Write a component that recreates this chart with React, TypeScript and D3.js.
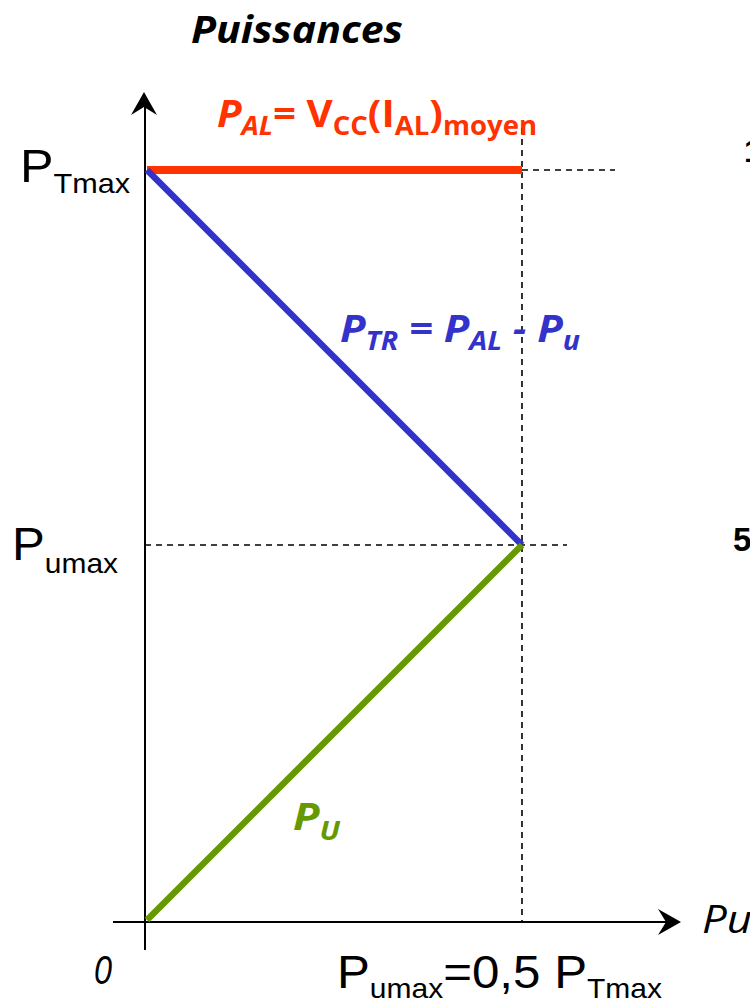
import React from "react";
import * as d3 from "d3";

// Data (normalized: P_Tmax = 1, P_umax = 0.5)
const puValues = [0, 0.5];
const palValues = [1, 1];
const ptrValues = [1, 0.5];
const pusValues = [0, 0.5];
const yTicks = [
  { v: 1, main: "P", sub: "Tmax" },
  { v: 0.5, main: "P", sub: "umax" },
];

const W = 750;
const H = 1004;

export default function App() {
  const x = d3.scaleLinear().domain([0, 0.5]).range([147, 522]);
  const y = d3.scaleLinear().domain([0, 0.5]).range([920, 545]);
  const line = d3
    .line<[number, number]>()
    .x((d) => x(d[0]))
    .y((d) => y(d[1]));
  const zip = (a: number[], b: number[]) =>
    a.map((v, i) => [v, b[i]] as [number, number]);

  const axisX = 145;
  const axisY = 922;
  const calibri = "'Open Sans', sans-serif";
  const arial = "'Liberation Sans', Arial, sans-serif";
  const tickPos = [
    { x: 20, base: 12, dy: 11, w: 110 },
    { x: 12, base: 15, dy: 13, w: 106 },
  ];

  return (
    <svg
      width={W}
      height={H}
      style={{ position: "absolute", left: 0, top: 0, background: "#fff" }}
    >
      {/* Title */}
      <text
        x={191}
        y={43}
        fontFamily={calibri}
        fontWeight="bold"
        fontStyle="italic"
        fontSize={38}
        textLength={212}
        lengthAdjust="spacingAndGlyphs"
      >
        Puissances
      </text>

      {/* dashed guides */}
      <line x1={x(0.5)} x2={x(0.5)} y1={128} y2={axisY} stroke="#000" strokeWidth={1.6} strokeDasharray="6,5" />
      <line x1={x(0.5)} x2={615} y1={y(1)} y2={y(1)} stroke="#000" strokeWidth={1.6} strokeDasharray="6,5" />
      <line x1={axisX} x2={567} y1={y(0.5)} y2={y(0.5)} stroke="#000" strokeWidth={1.6} strokeDasharray="6,5" />

      {/* axes */}
      <line x1={axisX} x2={axisX} y1={950} y2={105} stroke="#000" strokeWidth={2} />
      <path d={`M${axisX - 1},92 L${axisX + 12},115 L${axisX - 1},107 L${axisX - 14},115 Z`} fill="#000" />
      <line x1={113} x2={670} y1={axisY} y2={axisY} stroke="#000" strokeWidth={2} />
      <path d={`M681,${axisY} L658,${axisY - 13} L666,${axisY} L658,${axisY + 13} Z`} fill="#000" />

      {/* series */}
      <path d={line(zip(puValues, palValues)) || ""} stroke="#FF3300" strokeWidth={8} fill="none" />
      <path d={line(zip(puValues, ptrValues)) || ""} stroke="#3333CC" strokeWidth={6.5} fill="none" />
      <path d={line(zip(puValues, pusValues)) || ""} stroke="#669900" strokeWidth={6.5} fill="none" />

      {/* y tick labels */}
      {yTicks.map((t, i) => (
        <text
          key={i}
          x={tickPos[i].x}
          y={y(t.v) + tickPos[i].base}
          fontFamily={arial}
          fontSize={46}
          textLength={tickPos[i].w}
          lengthAdjust="spacingAndGlyphs"
        >
          {t.main}
          <tspan fontSize={28} dy={tickPos[i].dy}>{t.sub}</tspan>
        </text>
      ))}

      {/* origin */}
      <text x={94} y={984} fontFamily={arial} fontStyle="italic" fontSize={40} textLength={18} lengthAdjust="spacingAndGlyphs">0</text>

      {/* x label */}
      <text x={337} y={988} fontFamily={arial} fontSize={46} textLength={325} lengthAdjust="spacingAndGlyphs">
        P<tspan fontSize={28} dy={10}>umax</tspan>
        <tspan dy={-10}>=0,5 P</tspan>
        <tspan fontSize={28} dy={10}>Tmax</tspan>
      </text>

      {/* axis name */}
      <text x={702} y={933} fontFamily={calibri} fontStyle="italic" fontSize={38} textLength={50} lengthAdjust="spacingAndGlyphs">Pu</text>

      {/* red label */}
      <text
        x={217}
        y={127}
        fill="#FF3300"
        fontFamily={calibri}
        fontWeight="bold"
        fontSize={38}
        textLength={320}
        lengthAdjust="spacingAndGlyphs"
      >
        <tspan fontStyle="italic">P</tspan>
        <tspan fontStyle="italic" fontSize={26} dy={8}>AL</tspan>
        <tspan dy={-8}>= V</tspan>
        <tspan fontSize={26} dy={8}>CC</tspan>
        <tspan dy={-8}>(I</tspan>
        <tspan fontSize={26} dy={8}>AL</tspan>
        <tspan dy={-8}>)</tspan>
        <tspan fontSize={26} dy={8}>moyen</tspan>
      </text>

      {/* blue label */}
      <text
        x={340}
        y={342}
        fill="#3333CC"
        fontFamily={calibri}
        fontWeight="bold"
        fontStyle="italic"
        fontSize={38}
        textLength={240}
        lengthAdjust="spacingAndGlyphs"
      >
        P<tspan fontSize={26} dy={8}>TR</tspan>
        <tspan dy={-8}> = P</tspan>
        <tspan fontSize={26} dy={8}>AL</tspan>
        <tspan dy={-8}> - P</tspan>
        <tspan fontSize={26} dy={8}>u</tspan>
      </text>

      {/* green label */}
      <text
        x={293}
        y={830}
        fill="#669900"
        fontFamily={calibri}
        fontWeight="bold"
        fontStyle="italic"
        fontSize={38}
        textLength={47}
        lengthAdjust="spacingAndGlyphs"
      >
        P<tspan fontSize={26} dy={10}>U</tspan>
      </text>

      {/* clipped fragments on the right edge */}
      <text x={733} y={551} fontFamily={arial} fontWeight="bold" fontSize={33}>5</text>
      <text x={744} y={162} fontFamily={arial} fontWeight="bold" fontSize={32}>1</text>
    </svg>
  );
}
